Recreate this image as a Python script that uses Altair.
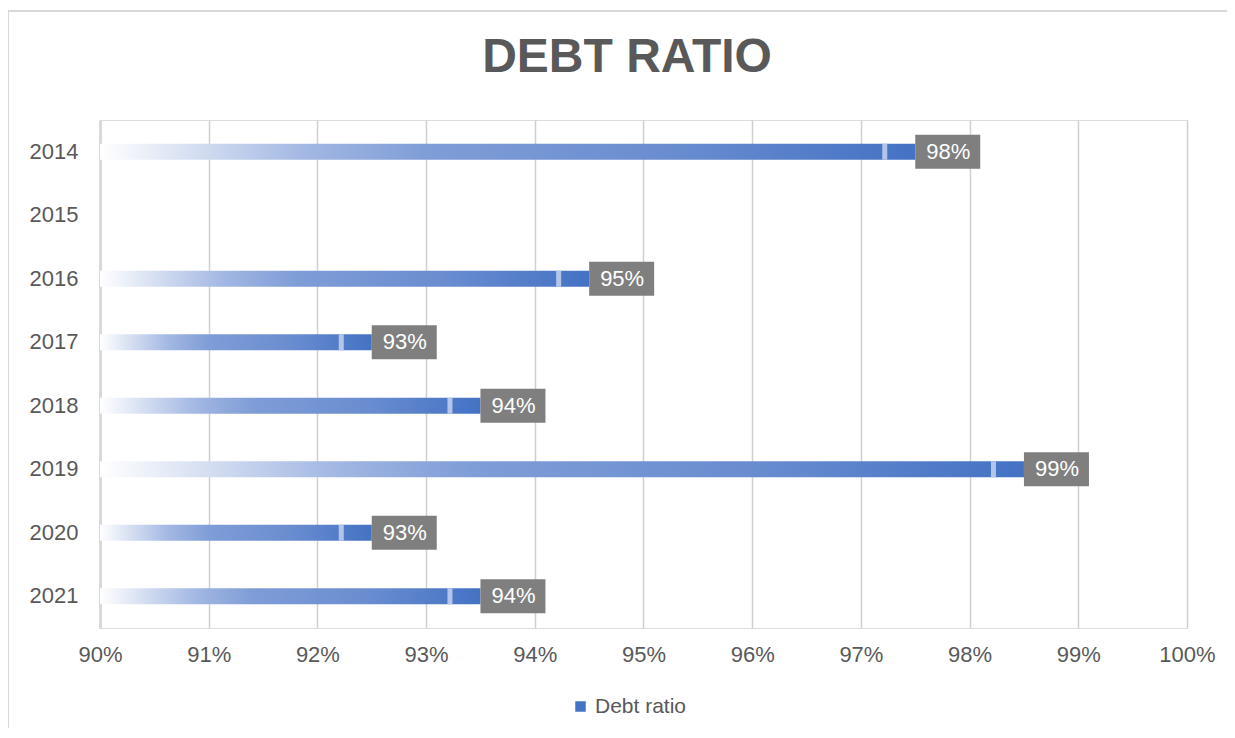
import altair as alt
import pandas as pd

years = ["2014", "2015", "2016", "2017", "2018", "2019", "2020", "2021"]
values = [0.975, None, 0.945, 0.925, 0.935, 0.985, 0.925, 0.935]
labels = ["98%", "", "95%", "93%", "94%", "99%", "93%", "94%"]
x_ticks = [0.90, 0.91, 0.92, 0.93, 0.94, 0.95, 0.96, 0.97, 0.98, 0.99, 1.00]
series_name = "Debt ratio"
chart_title = "DEBT RATIO"

df = pd.DataFrame({"year": years, "value": values, "label": labels, "series": series_name})
bars_df = df.dropna(subset=["value"])

FONT = "Liberation Sans"
GREY = "#595959"

x_enc = alt.X("value:Q",
              scale=alt.Scale(domain=[0.9, 1.0], zero=False, nice=False),
              axis=alt.Axis(values=x_ticks, format=".0%", title=None, grid=True,
                            gridColor="#d0d0d0", gridWidth=1.5, domain=False, ticks=False,
                            labelFlush=False, labelOverlap=False,
                            labelFontSize=22, labelColor=GREY, labelFont=FONT, labelPadding=16))
y_enc = alt.Y("year:O", sort=years,
              scale=alt.Scale(domain=years, paddingInner=0, paddingOuter=0),
              axis=alt.Axis(title=None, ticks=False, domainColor="#d9d9d9", domainWidth=3,
                            labelFontSize=22, labelColor=GREY, labelFont=FONT, labelPadding=22))

gradient = alt.LinearGradient(
    gradient="linear", x1=0, x2=1, y1=0, y2=0,
    stops=[alt.GradientStop(color="#ffffff", offset=0),
           alt.GradientStop(color="#d3ddf1", offset=0.12),
           alt.GradientStop(color="#a3b8e3", offset=0.25),
           alt.GradientStop(color="#7f9dd7", offset=0.4),
           alt.GradientStop(color="#6a8dd0", offset=0.7),
           alt.GradientStop(color="#4472c4", offset=1)])

base = alt.Chart(bars_df)

bars = base.mark_bar(height=16, color=gradient).encode(
    x=x_enc, x2=alt.datum(0.9), y=y_enc)

stripe = base.mark_bar(height=16, color="#b3c6ea", xOffset=-33, x2Offset=-28).encode(
    x="value:Q", x2="value:Q", y=alt.Y("year:O", sort=years))

box = base.mark_bar(height=34, color="#7f7f7f", x2Offset=65).encode(
    x="value:Q", x2="value:Q", y=alt.Y("year:O", sort=years))

text = base.mark_text(dx=33, align="center", baseline="middle", color="white",
                      fontSize=22, font=FONT).encode(
    x="value:Q", y=alt.Y("year:O", sort=years), text="label:N")

legend_layer = base.mark_square(opacity=0).encode(
    x="value:Q", y=alt.Y("year:O", sort=years),
    color=alt.Color("series:N", scale=alt.Scale(range=["#4472c4"]),
                    legend=alt.Legend(title=None, orient="none", legendX=470, legendY=576,
                                      symbolType="square", symbolOpacity=1, symbolSize=110,
                                      labelFontSize=21, labelColor=GREY, labelFont=FONT,
                                      symbolStrokeWidth=0)))

one = pd.DataFrame({"t": [chart_title]})
title_mark = alt.Chart(one).mark_text(fontSize=48, font=FONT, fontWeight="bold", color=GREY,
                                      align="center", baseline="middle").encode(
    x=alt.value(527), y=alt.value(-62), text="t:N")

frame_top = alt.Chart(one).mark_rule(color="#d9d9d9", strokeWidth=2).encode(
    x=alt.value(-92), x2=alt.value(1140), y=alt.value(-109))
frame_left = alt.Chart(one).mark_rule(color="#d9d9d9", strokeWidth=2).encode(
    x=alt.value(-92), y=alt.value(-109), y2=alt.value(620))

chart = alt.layer(frame_top, frame_left, title_mark, bars, stripe, box, text, legend_layer).properties(
    width=1087, height=508,
    autosize=alt.AutoSizeParams(type="none"),
    padding={"left": 92, "top": 112, "right": 40, "bottom": 100},
).configure_view(stroke=None).configure(background="white")

chart.save("out.html", embed_options={"renderer": "svg", "actions": False})
